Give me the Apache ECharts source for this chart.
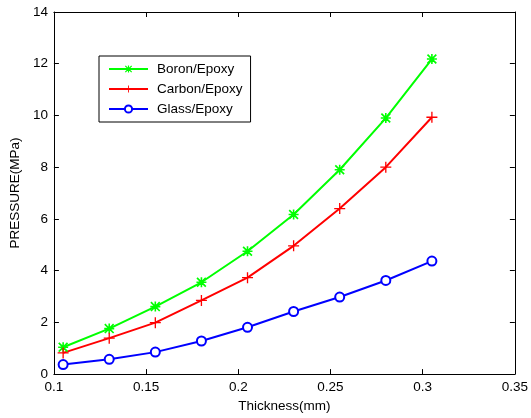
<!DOCTYPE html>
<html>
<head>
<meta charset="utf-8">
<script src="https://cdn.jsdelivr.net/npm/echarts@6/dist/echarts.min.js"></script>
<style>
  html, body { margin: 0; padding: 0; background: #fff; }
  #chart { width: 531px; height: 418px; }
</style>
</head>
<body>
<div id="chart"></div>
<script>
  // thickness (mm)
  var thickness = [0.105, 0.13, 0.155, 0.18, 0.205, 0.23, 0.255, 0.28, 0.305];
  // pressure (MPa)
  var boron  = [1.04, 1.76, 2.61, 3.55, 4.75, 6.17, 7.9, 9.9, 12.18];
  var carbon = [0.82, 1.39, 1.99, 2.85, 3.73, 4.96, 6.4, 8.0, 9.93];
  var glass  = [0.37, 0.57, 0.85, 1.28, 1.81, 2.42, 2.98, 3.62, 4.37];
  var xTicks = [0.1, 0.15, 0.2, 0.25, 0.3, 0.35];

  var plusPath = 'path://M4.4,0H5.6V4.4H10V5.6H5.6V10H4.4V5.6H0V4.4H4.4Z';
  var starPath = 'path://M4.2,0H5.8V4.2H10V5.8H5.8V10H4.2V5.8H0V4.2H4.2Z' +
                 'M1.2,0L5,3.8L8.8,0L10,1.2L6.2,5L10,8.8L8.8,10L5,6.2L1.2,10L0,8.8L3.8,5L0,1.2Z';

  function pairs(ys) {
    return thickness.map(function (x, i) { return [x, ys[i]]; });
  }

  var font = 'Liberation Sans, Arial, sans-serif';
  var chart = echarts.init(document.getElementById('chart'));

  var baseX = {
    type: 'value', min: 0.1, max: 0.35, interval: 0.05,
    axisLine: { onZero: false, lineStyle: { color: '#000', width: 1 } },
    axisTick: { inside: true, length: 5, lineStyle: { color: '#000' } },
    splitLine: { show: false }
  };
  var baseY = {
    type: 'value', min: 0, max: 14, interval: 2,
    axisLine: { show: true, onZero: false, lineStyle: { color: '#000', width: 1 } },
    axisTick: { show: true, inside: true, length: 5, lineStyle: { color: '#000' } },
    splitLine: { show: false }
  };

  chart.setOption({
    animation: false,
    grid: { left: 53, right: 14, top: 12, bottom: 41 },
    legend: {
      orient: 'vertical',
      left: 99, top: 56,
      padding: [6, 8, 6, 9],
      itemGap: 6,
      itemWidth: 39, itemHeight: 9,
      borderColor: '#000', borderWidth: 1,
      backgroundColor: '#fff',
      textStyle: { fontFamily: font, fontSize: 13.5, color: '#000', padding: [0, 0, 0, 4] },
      data: ['Boron/Epoxy', 'Carbon/Epoxy', 'Glass/Epoxy']
    },
    xAxis: [
      Object.assign({}, baseX, {
        position: 'bottom',
        name: 'Thickness(mm)', nameLocation: 'middle', nameGap: 24,
        nameTextStyle: { fontFamily: font, fontSize: 13.5, color: '#000' },
        axisLabel: {
          fontFamily: font, fontSize: 13.5, color: '#000', margin: 6,
          formatter: function (v) {
            var t = xTicks.find(function (k) { return Math.abs(k - v) < 1e-9; });
            return t !== undefined ? String(t) : '';
          }
        }
      }),
      Object.assign({}, baseX, { position: 'top', axisLabel: { show: false } })
    ],
    yAxis: [
      Object.assign({}, baseY, {
        position: 'left',
        name: 'PRESSURE(MPa)', nameLocation: 'middle', nameGap: 28,
        nameTextStyle: { fontFamily: font, fontSize: 13.5, color: '#000' },
        axisLabel: { fontFamily: font, fontSize: 13.5, color: '#000', margin: 6 }
      }),
      Object.assign({}, baseY, { position: 'right', axisLabel: { show: false } })
    ],
    series: [
      {
        name: 'Boron/Epoxy', type: 'line', data: pairs(boron),
        symbol: starPath, symbolSize: 10, showAllSymbol: true,
        lineStyle: { color: '#00ff00', width: 2 },
        itemStyle: { color: '#00ff00' }
      },
      {
        name: 'Carbon/Epoxy', type: 'line', data: pairs(carbon),
        symbol: plusPath, symbolSize: 11, showAllSymbol: true,
        lineStyle: { color: '#ff0000', width: 2 },
        itemStyle: { color: '#ff0000' }
      },
      {
        name: 'Glass/Epoxy', type: 'line', data: pairs(glass),
        symbol: 'emptyCircle', symbolSize: 9, showAllSymbol: true,
        lineStyle: { color: '#0000ff', width: 2 },
        itemStyle: { color: '#0000ff', borderColor: '#0000ff', borderWidth: 2 }
      }
    ]
  });
</script>
</body>
</html>
